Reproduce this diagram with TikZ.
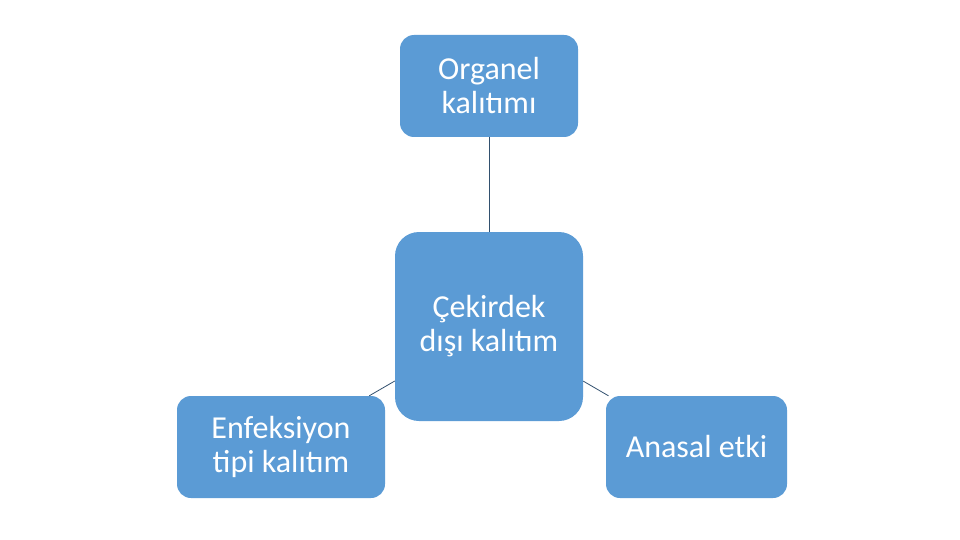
\documentclass[tikz,border=0pt]{standalone}
\usepackage{fontspec}
\setmainfont{Carlito}
\definecolor{boxblue}{HTML}{5B9BD5}
\definecolor{linecol}{RGB}{50,80,110}
\begin{document}
\begin{tikzpicture}[x=1pt,y=-1pt,
  box/.style={draw=none,fill=boxblue,text=white,align=center,
    font=\fontsize{32}{34}\selectfont,inner sep=0pt},
  conn/.style={draw=linecol,line width=0.8pt}]
\useasboundingbox (0,0) rectangle (960,540);
\node[box,rounded corners=14pt,minimum width=178pt,minimum height=102pt] (top) at (489,86) {Organel\\kalıtımı};
\node[box,rounded corners=24pt,minimum width=188pt,minimum height=189pt] (mid) at (489,326.5) {Çekirdek\\dışı kalıtım};
\node[box,rounded corners=14pt,minimum width=208pt,minimum height=102pt] (left) at (281,447) {Enfeksiyon\\tipi kalıtım};
\node[box,rounded corners=14pt,minimum width=181pt,minimum height=102pt] (right) at (696.5,447) {Anasal etki};
\draw[conn] (top) -- (mid);
\draw[conn] (mid) -- (left);
\draw[conn] (mid) -- (right);
\end{tikzpicture}
\end{document}
